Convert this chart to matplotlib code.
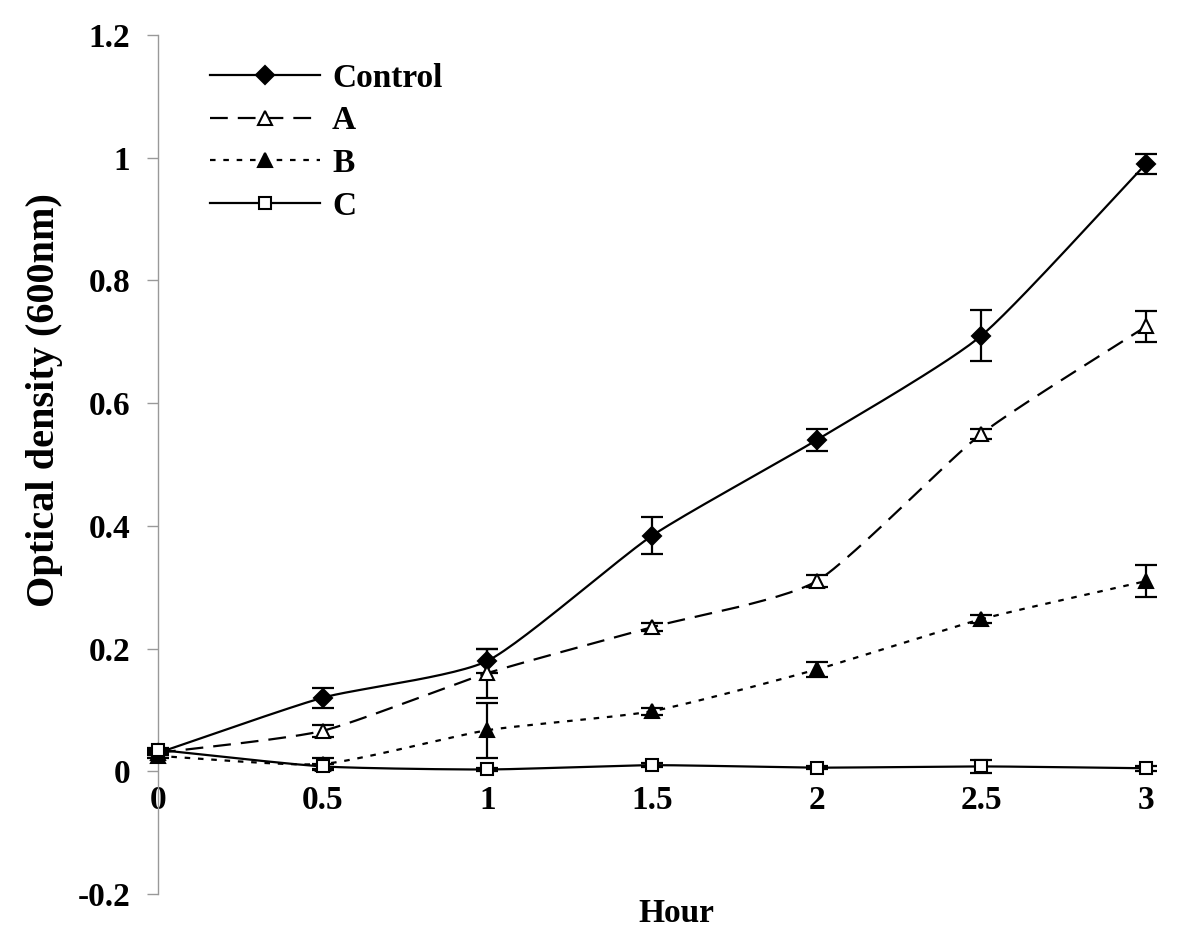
import numpy as np
import matplotlib
matplotlib.use('Agg')
import matplotlib.pyplot as plt
from matplotlib.lines import Line2D

# data
hours = [0, 0.5, 1, 1.5, 2, 2.5, 3]
control = [0.030, 0.120, 0.180, 0.384, 0.540, 0.710, 0.990]
control_err = [0.004, 0.016, 0.020, 0.030, 0.018, 0.042, 0.016]
a_vals = [0.030, 0.066, 0.160, 0.235, 0.310, 0.550, 0.725]
a_err = [0.003, 0.010, 0.040, 0.006, 0.010, 0.008, 0.026]
b_vals = [0.025, 0.012, 0.067, 0.098, 0.166, 0.248, 0.310]
b_err = [0.003, 0.010, 0.045, 0.006, 0.012, 0.006, 0.026]
c_vals = [0.035, 0.008, 0.003, 0.010, 0.006, 0.008, 0.005]
c_err = [0.003, 0.004, 0.003, 0.003, 0.003, 0.010, 0.004]

labels = ['Control', 'A', 'B', 'C']


def smooth(x, y, n=30, tension=0.3):
    # cardinal spline through the points, like excel smoothed lines
    x = np.asarray(x, float)
    y = np.asarray(y, float)
    px = np.concatenate([[2*x[0]-x[1]], x, [2*x[-1]-x[-2]]])
    py = np.concatenate([[2*y[0]-y[1]], y, [2*y[-1]-y[-2]]])
    xs, ys = [], []
    t = np.linspace(0, 1, n)
    h00 = 2*t**3 - 3*t**2 + 1
    h10 = t**3 - 2*t**2 + t
    h01 = -2*t**3 + 3*t**2
    h11 = t**3 - t**2
    for i in range(1, len(px)-2):
        for p, out in ((px, xs), (py, ys)):
            m1 = tension*(p[i+1]-p[i-1])
            m2 = tension*(p[i+2]-p[i])
            out.extend(h00*p[i] + h10*m1 + h01*p[i+1] + h11*m2)
    return np.array(xs), np.array(ys)


plt.rcParams['font.family'] = 'Liberation Serif'
plt.rcParams['font.weight'] = 'bold'

fig = plt.figure(figsize=(12, 9.4), dpi=100)
ax = fig.add_axes([0.1317, 0.0489, 0.8233, 0.9138])

styles = [
    dict(ls='-', marker='D', mfc='black', ms=9),
    dict(ls=(0, (8, 4.5)), marker='^', mfc='white', ms=10),
    dict(ls=(0, (2.5, 3.5)), marker='^', mfc='black', ms=10),
    dict(ls='-', marker='s', mfc='white', ms=9),
]
series = [(control, control_err), (a_vals, a_err), (b_vals, b_err), (c_vals, c_err)]

handles = []
for (vals, err), st in zip(series, styles):
    sx, sy = smooth(hours, vals)
    ax.plot(sx, sy, color='black', lw=1.6, ls=st['ls'], zorder=2, clip_on=False)
    eb = ax.errorbar(hours, vals, yerr=err, fmt='none', ecolor='black',
                     elinewidth=1.6, capsize=8, capthick=1.6, zorder=3)
    for art in eb.lines[1] + eb.lines[2]:
        art.set_clip_on(False)
    ax.plot(hours, vals, ls='none', marker=st['marker'], mfc=st['mfc'],
            mec='black', mew=1.5, ms=st['ms'], zorder=4, clip_on=False)
    handles.append(Line2D([], [], color='black', lw=1.6, ls=st['ls'],
                          marker=st['marker'], mfc=st['mfc'], mec='black',
                          mew=1.5, ms=st['ms']))

ax.set_xlim(0, 3)
ax.set_ylim(-0.2, 1.2)
ax.set_xticks(hours)
ax.set_xticklabels(['0', '0.5', '1', '1.5', '2', '2.5', '3'])
ax.set_yticks([-0.2, 0, 0.2, 0.4, 0.6, 0.8, 1, 1.2])
ax.set_yticklabels(['-0.2', '0', '0.2', '0.4', '0.6', '0.8', '1', '1.2'])

for s in ['top', 'right']:
    ax.spines[s].set_visible(False)
ax.spines['bottom'].set_position(('data', 0))
ax.spines['bottom'].set_visible(False)
ax.spines['left'].set_color('#999999')
ax.spines['left'].set_linewidth(1)

ax.tick_params(axis='y', length=8, color='#999999', width=1, labelsize=24, pad=12)
ax.tick_params(axis='x', length=0, labelsize=24, pad=10)
for lbl in ax.get_xticklabels() + ax.get_yticklabels():
    lbl.set_fontweight('bold')

ax.set_ylabel('Optical density (600nm)', fontsize=29, fontweight='bold')
ax.yaxis.set_label_coords(-0.096, 0.575)
ax.set_xlabel('Hour', fontsize=24, fontweight='bold')
ax.xaxis.set_label_coords(0.525, -0.005)

leg = ax.legend(handles, labels, loc='upper left', bbox_to_anchor=(0.0526, 0.968),
                frameon=False, handlelength=3.3, handletextpad=0.36,
                labelspacing=0.35, borderpad=0, borderaxespad=0,
                prop={'weight': 'bold', 'size': 24})

fig.savefig('out.png', dpi=100)
